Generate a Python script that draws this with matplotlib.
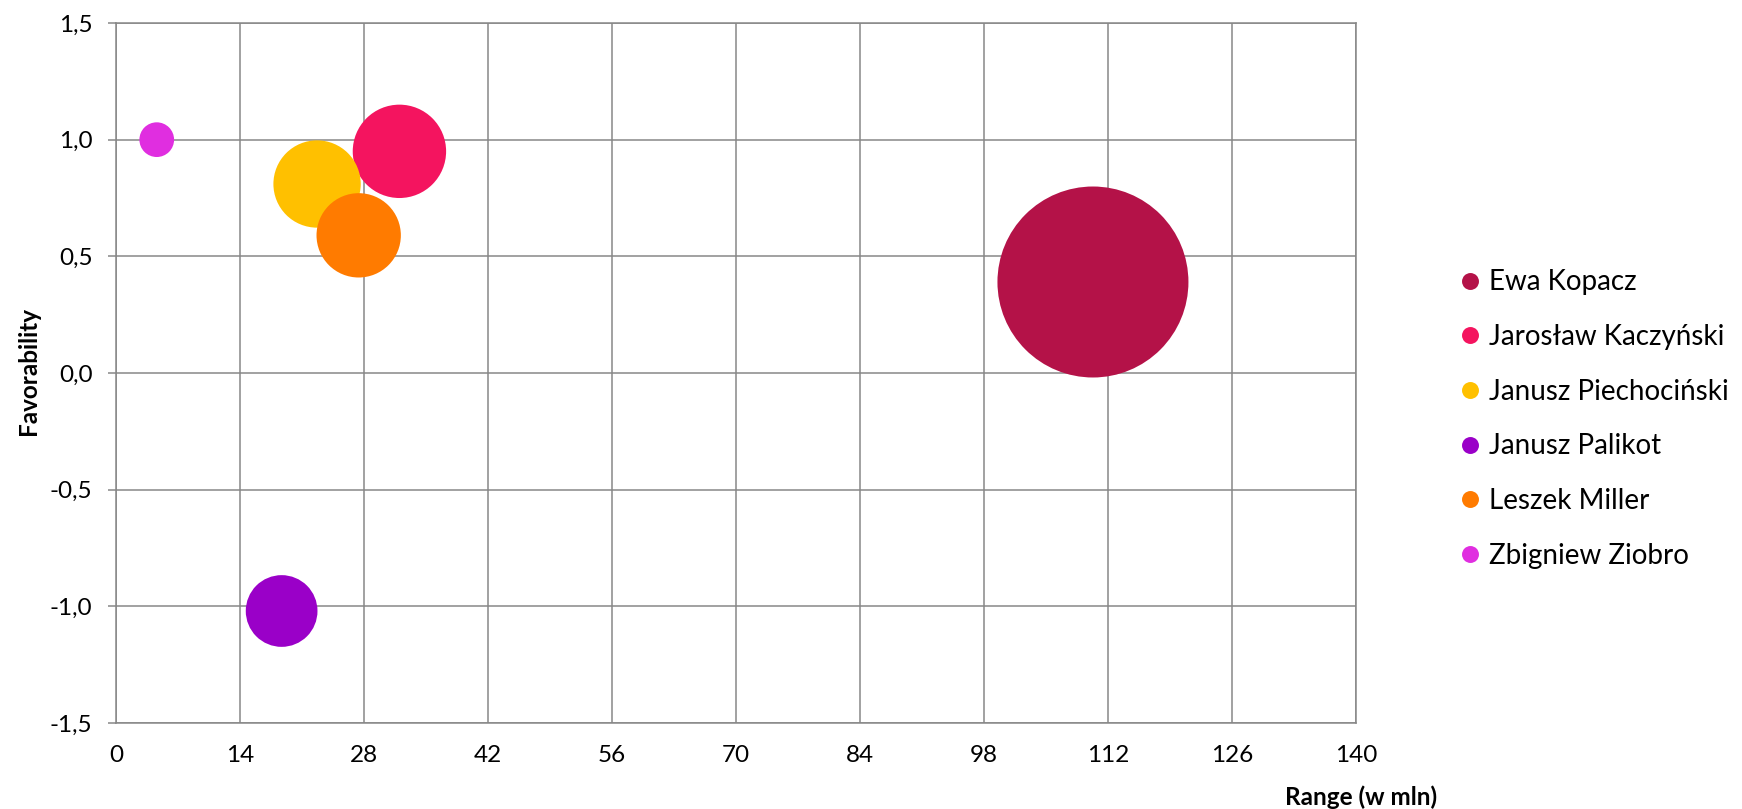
import matplotlib
matplotlib.use('Agg')
import matplotlib.pyplot as plt
from matplotlib.lines import Line2D
from matplotlib.ticker import FuncFormatter

### Data

names = ['Ewa Kopacz', 'Jarosław Kaczyński', 'Janusz Piechociński',
         'Janusz Palikot', 'Leszek Miller', 'Zbigniew Ziobro']
reach = [110.3, 32.0, 22.7, 18.7, 27.4, 4.6]         # Range (w mln)
favor = [0.39, 0.95, 0.81, -1.02, 0.59, 1.0]         # Favorability
bubble = [100, 23.9, 20.9, 14.1, 19.5, 3.3]          # bubble size
colors = ['#B41248', '#F4145F', '#FFC000', '#9A00C8', '#FF7B00', '#E02EE0']

xticks = [0, 14, 28, 42, 56, 70, 84, 98, 112, 126, 140]
yticks = [-1.5, -1.0, -0.5, 0.0, 0.5, 1.0, 1.5]

### Plot

plt.rcParams['font.family'] = ['Lato', 'DejaVu Sans']
grid_col = '#878787'

W, H = 1742, 809
fig = plt.figure(figsize=(W / 100, H / 100), dpi=100)
ax = fig.add_axes([116 / W, 1 - 723 / H, (1356 - 116) / W, 700 / H])

scale = 189.1
for x, y, s, c in zip(reach, favor, bubble, colors):
    ax.scatter(x, y, s=s * scale, color=c, edgecolors='none', zorder=3)

ax.set_xlim(0, 140)
ax.set_ylim(-1.5, 1.5)
ax.set_xticks(xticks)
ax.set_yticks(yticks)
ax.yaxis.set_major_formatter(FuncFormatter(lambda v, p: ('%.1f' % v).replace('.', ',')))
ax.grid(True, color=grid_col, linewidth=1.1, zorder=0)
ax.set_axisbelow(True)
for sp in ax.spines.values():
    sp.set_color(grid_col)
    sp.set_linewidth(1.1)

ax.tick_params(axis='y', length=6, width=1.1, color=grid_col, pad=11, labelsize=17.5)
ax.tick_params(axis='x', length=0, pad=16, labelsize=17.5)

fig.text(1361 / W, 1 - 797 / H, 'Range (w mln)', ha='center', va='center',
         fontsize=17.5, fontweight='bold')
fig.text(28 / W, 1 - 371 / H, 'Favorability', ha='center', va='center',
         rotation=90, fontsize=17.5, fontweight='bold')

handles = [Line2D([], [], marker='o', linestyle='', markersize=12.2,
                  markerfacecolor=c, markeredgecolor='none') for c in colors]
fig.legend(handles, names, loc='center left', bbox_to_anchor=(1459.5 / W, 1 - 419 / H),
           frameon=False, fontsize=20, borderpad=0, borderaxespad=0,
           handlelength=0.75, handletextpad=0.3, labelspacing=1.03)

fig.savefig('out.png', dpi=100)
